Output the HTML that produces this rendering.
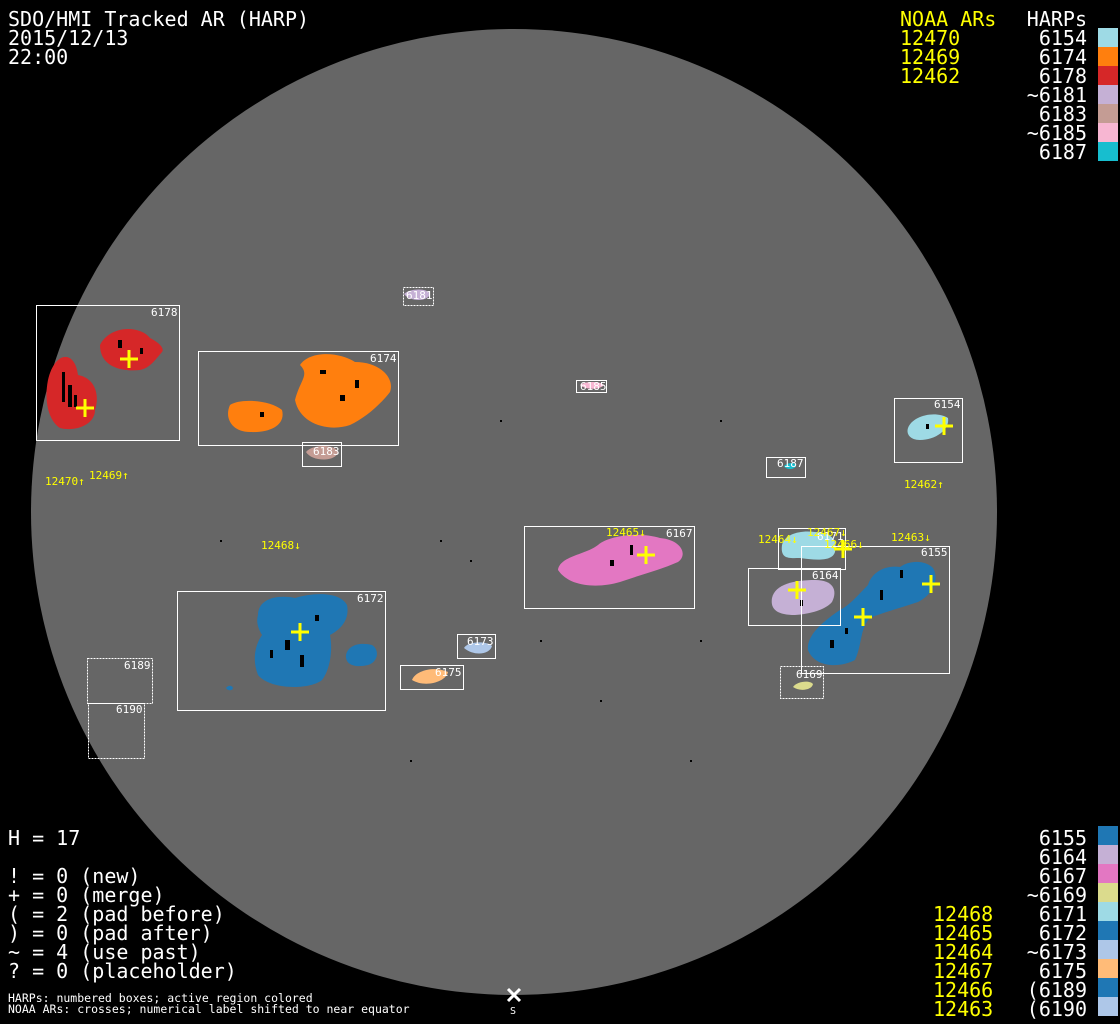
<!DOCTYPE html>
<html><head><meta charset="utf-8"><style>
html,body{margin:0;padding:0;background:#000;}
svg{display:block}
text{font-family:"DejaVu Sans Mono","Liberation Mono",monospace;}
</style></head><body>
<svg width="1120" height="1024" viewBox="0 0 1120 1024" xmlns="http://www.w3.org/2000/svg">
<rect width="1120" height="1024" fill="#000"/>
<circle cx="514" cy="512" r="483" fill="#666"/>
<g>
<path d="M48,380 C55,350 75,350 78,375 C95,378 100,395 95,410 C95,425 75,432 60,428 C48,420 44,400 48,380Z" fill="#d62728"/>
<path d="M100,345 C110,325 140,325 150,338 C158,342 165,348 162,352 C155,360 150,368 140,370 C120,372 100,366 100,345Z" fill="#d62728"/>
<path d="M230,405 C240,398 270,400 282,410 C286,425 270,433 250,432 C232,432 224,418 230,405Z" fill="#ff7f0e"/>
<path d="M295,400 C300,380 310,375 300,365 C310,350 340,352 355,362 C380,362 395,378 390,392 C380,405 365,418 350,425 C330,432 300,425 295,400Z" fill="#ff7f0e"/>
<path d="M404,294 C410,288 428,288 430,294 C428,302 410,302 404,294Z" fill="#c5b0d5"/>
<path d="M580,385 C585,381 600,381 604,385 C600,390 585,390 580,385Z" fill="#f7b6d2"/>
<path d="M306,452 C312,444 336,444 338,452 C336,462 312,462 306,452Z" fill="#c49c94"/>
<path d="M908,428 C912,416 935,410 948,418 C950,430 935,440 920,440 C910,440 906,434 908,428Z" fill="#9edae5"/>
<path d="M784,466 C788,462 795,462 796,466 C794,470 786,470 784,466Z" fill="#17becf"/>
<path d="M558,570 C560,556 585,555 598,545 C610,535 640,532 660,538 C682,540 688,555 678,562 C660,570 640,575 620,582 C600,588 570,588 558,570Z" fill="#e377c2"/>
<path d="M782,545 C785,534 800,530 815,532 C830,533 838,538 835,552 C832,562 815,560 800,558 C790,558 780,560 782,545Z" fill="#9edae5"/>
<path d="M772,598 C775,584 795,580 815,580 C833,580 838,590 832,602 C825,610 810,614 795,615 C778,615 770,610 772,598Z" fill="#c5b0d5"/>
<path d="M808,650 C806,635 825,620 840,610 C850,605 858,595 868,585 C872,572 885,565 900,567 C910,560 925,560 933,568 C940,580 932,595 918,602 C900,608 885,612 870,618 C860,628 862,645 855,660 C840,668 815,668 808,650Z" fill="#1f77b4"/>
<path d="M793,687 C797,681 810,680 813,684 C812,690 800,692 793,687Z" fill="#dbdb8d"/>
<path d="M258,615 C258,600 275,594 295,598 C315,592 340,592 347,605 C350,620 340,630 330,635 C333,650 330,670 322,680 C310,690 270,690 258,675 C252,660 255,645 262,635 C258,628 256,622 258,615Z" fill="#1f77b4"/>
<path d="M346,655 C348,645 360,642 372,645 C380,650 378,662 368,665 C355,668 345,665 346,655Z" fill="#1f77b4"/>
<path d="M226,688 C228,685 232,685 233,688 C232,691 228,691 226,688Z" fill="#1f77b4"/>
<path d="M464,648 C467,642 485,640 492,646 C490,654 475,657 464,648Z" fill="#aec7e8"/>
<path d="M412,680 C416,670 435,666 448,672 C446,682 425,688 412,680Z" fill="#ffbb78"/>
</g>
<g fill="#000">
<rect x="62" y="372" width="3" height="30"/><rect x="68" y="385" width="4" height="22"/><rect x="74" y="395" width="3" height="12"/>
<rect x="118" y="340" width="4" height="8"/><rect x="140" y="348" width="3" height="6"/>
<rect x="320" y="370" width="6" height="4"/><rect x="340" y="395" width="5" height="6"/><rect x="355" y="380" width="4" height="8"/><rect x="260" y="412" width="4" height="5"/>
<rect x="285" y="640" width="5" height="10"/><rect x="300" y="655" width="4" height="12"/><rect x="270" y="650" width="3" height="8"/><rect x="315" y="615" width="4" height="6"/>
<rect x="610" y="560" width="4" height="6"/><rect x="630" y="545" width="3" height="10"/>
<rect x="880" y="590" width="3" height="10"/><rect x="900" y="570" width="3" height="8"/><rect x="830" y="640" width="4" height="8"/><rect x="845" y="628" width="3" height="6"/>
<rect x="800" y="600" width="3" height="6"/><rect x="926" y="424" width="3" height="5"/>
<rect x="440" y="540" width="2" height="2"/><rect x="470" y="560" width="2" height="2"/><rect x="700" y="640" width="2" height="2"/><rect x="600" y="700" width="2" height="2"/><rect x="500" y="420" width="2" height="2"/><rect x="410" y="760" width="2" height="2"/><rect x="690" y="760" width="2" height="2"/><rect x="720" y="420" width="2" height="2"/><rect x="220" y="540" width="2" height="2"/><rect x="540" y="640" width="2" height="2"/>
</g>
<g fill="none" stroke="#fff" stroke-width="1">
<rect x="36.5" y="305.5" width="143" height="135"/>
<rect x="198.5" y="351.5" width="200" height="94"/>
<rect x="403.5" y="287.5" width="30" height="18" stroke-dasharray="2,1"/>
<rect x="576.5" y="380.5" width="30" height="12"/>
<rect x="302.5" y="442.5" width="39" height="24"/>
<rect x="894.5" y="398.5" width="68" height="64"/>
<rect x="766.5" y="457.5" width="39" height="20"/>
<rect x="524.5" y="526.5" width="170" height="82"/>
<rect x="778.5" y="528.5" width="67" height="41"/>
<rect x="748.5" y="568.5" width="92" height="57"/>
<rect x="801.5" y="546.5" width="148" height="127"/>
<rect x="177.5" y="591.5" width="208" height="119"/>
<rect x="457.5" y="634.5" width="38" height="24"/>
<rect x="400.5" y="665.5" width="63" height="24"/>
<rect x="780.5" y="666.5" width="43" height="32" stroke-dasharray="2,1"/>
<rect x="87.5" y="658.5" width="65" height="45" stroke-dasharray="2,1"/>
<rect x="88.5" y="703.5" width="56" height="55" stroke-dasharray="2,1"/>
</g>
<g fill="#fff" font-size="11">
<text x="151" y="316">6178</text>
<text x="370" y="362">6174</text>
<text x="406" y="299">6181</text>
<text x="580" y="390">6185</text>
<text x="313" y="455">6183</text>
<text x="934" y="408">6154</text>
<text x="777" y="467">6187</text>
<text x="666" y="537">6167</text>
<text x="817" y="540">6171</text>
<text x="812" y="579">6164</text>
<text x="921" y="556">6155</text>
<text x="357" y="602">6172</text>
<text x="467" y="645">6173</text>
<text x="435" y="676">6175</text>
<text x="796" y="678">6169</text>
<text x="124" y="669">6189</text>
<text x="116" y="713">6190</text>
</g>
<g fill="#ffff00" font-size="11">
<text x="45" y="485">12470↑</text>
<text x="89" y="479">12469↑</text>
<text x="261" y="549">12468↓</text>
<text x="606" y="536">12465↓</text>
<text x="904" y="488">12462↑</text>
<text x="758" y="543">12464↓</text>
<text x="807" y="536">12467↓</text>
<text x="824" y="548">12466↓</text>
<text x="891" y="541">12463↓</text>
</g>
<g stroke="#ffff00" stroke-width="3">
<path d="M120,359h18M129,350v18"/>
<path d="M76,408h18M85,399v18"/>
<path d="M935,426h18M944,417v18"/>
<path d="M637,555h18M646,546v18"/>
<path d="M788,590h18M797,581v18"/>
<path d="M834,549h18M843,540v18"/>
<path d="M854,617h18M863,608v18"/>
<path d="M922,584h18M931,575v18"/>
<path d="M291,632h18M300,623v18"/>
</g>
<path d="M508,989l12,12M520,989l-12,12" stroke="#fff" stroke-width="3"/>
<text x="510" y="1014" fill="#fff" font-size="10">S</text>
<g fill="#fff" font-size="20">
<text x="8" y="26">SDO/HMI Tracked AR (HARP)</text>
<text x="8" y="45">2015/12/13</text>
<text x="8" y="64">22:00</text>
<text x="8" y="845">H = 17</text>
<text x="8" y="883">! = 0 (new)</text>
<text x="8" y="902">+ = 0 (merge)</text>
<text x="8" y="921">( = 2 (pad before)</text>
<text x="8" y="940">) = 0 (pad after)</text>
<text x="8" y="959">~ = 4 (use past)</text>
<text x="8" y="978">? = 0 (placeholder)</text>
</g>
<g fill="#fff" font-size="11.5">
<text x="8" y="1002">HARPs: numbered boxes; active region colored</text>
<text x="8" y="1013">NOAA ARs: crosses; numerical label shifted to near equator</text>
</g>
<g fill="#ffff00" font-size="20">
<text x="900" y="26">NOAA ARs</text>
<text x="900" y="45">12470</text>
<text x="900" y="64">12469</text>
<text x="900" y="83">12462</text>
<text x="933" y="921">12468</text>
<text x="933" y="940">12465</text>
<text x="933" y="959">12464</text>
<text x="933" y="978">12467</text>
<text x="933" y="997">12466</text>
<text x="933" y="1016">12463</text>
</g>
<g fill="#fff" font-size="20" text-anchor="end">
<text x="1087" y="26">HARPs</text>
<text x="1087" y="45">6154</text>
<text x="1087" y="64">6174</text>
<text x="1087" y="83">6178</text>
<text x="1087" y="102">~6181</text>
<text x="1087" y="121">6183</text>
<text x="1087" y="140">~6185</text>
<text x="1087" y="159">6187</text>
<text x="1087" y="845">6155</text>
<text x="1087" y="864">6164</text>
<text x="1087" y="883">6167</text>
<text x="1087" y="902">~6169</text>
<text x="1087" y="921">6171</text>
<text x="1087" y="940">6172</text>
<text x="1087" y="959">~6173</text>
<text x="1087" y="978">6175</text>
<text x="1087" y="997">(6189</text>
<text x="1087" y="1016">(6190</text>
</g>
<g>
<rect x="1098" y="28" width="20" height="19" fill="#9edae5"/>
<rect x="1098" y="47" width="20" height="19" fill="#ff7f0e"/>
<rect x="1098" y="66" width="20" height="19" fill="#d62728"/>
<rect x="1098" y="85" width="20" height="19" fill="#c5b0d5"/>
<rect x="1098" y="104" width="20" height="19" fill="#c49c94"/>
<rect x="1098" y="123" width="20" height="19" fill="#f7b6d2"/>
<rect x="1098" y="142" width="20" height="19" fill="#17becf"/>
<rect x="1098" y="826" width="20" height="19" fill="#1f77b4"/>
<rect x="1098" y="845" width="20" height="19" fill="#c5b0d5"/>
<rect x="1098" y="864" width="20" height="19" fill="#e377c2"/>
<rect x="1098" y="883" width="20" height="19" fill="#dbdb8d"/>
<rect x="1098" y="902" width="20" height="19" fill="#9edae5"/>
<rect x="1098" y="921" width="20" height="19" fill="#1f77b4"/>
<rect x="1098" y="940" width="20" height="19" fill="#aec7e8"/>
<rect x="1098" y="959" width="20" height="19" fill="#ffbb78"/>
<rect x="1098" y="978" width="20" height="19" fill="#1f77b4"/>
<rect x="1098" y="997" width="20" height="19" fill="#aec7e8"/>
</g>
</svg>
</body></html>
